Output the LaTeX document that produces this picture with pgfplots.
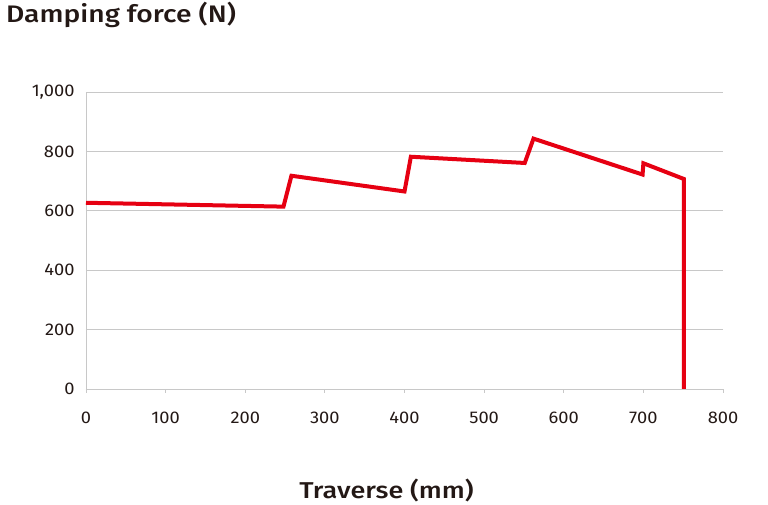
\documentclass[border=0pt]{standalone}
\usepackage{fontspec}
\setmainfont{Fira Sans}[FakeStretch=1.08]
\newfontfamily\titlefont{Fira Sans}[UprightFont={* Medium}, FakeStretch=1.18]
\usepackage{pgfplots}
\pgfplotsset{compat=1.18}
\definecolor{linered}{HTML}{E60012}
\definecolor{gridgray}{HTML}{C8C8C8}
\definecolor{txt}{HTML}{231815}
\begin{document}
\begin{tikzpicture}[x=1bp,y=1bp]
\path[use as bounding box] (-86,-116) rectangle (682,389);
\begin{axis}[
  at={(0,0)}, anchor=south west,
  scale only axis, width=637bp, height=297bp,
  xmin=0, xmax=800, ymin=0, ymax=1000,
  axis x line=bottom, axis y line=left,
  axis line style={-, draw=gridgray, line width=0.8bp},
  xtick={0,100,...,800}, ytick={0,200,...,1000},
  ymajorgrids, grid style={draw=gridgray, line width=0.8bp},
  xtick style={draw=gridgray, line width=0.8bp},
  tick align=outside, major tick length=4bp,
  ytick style={draw=none},
  /pgf/number format/assume math mode=true,
  /pgf/number format/1000 sep={,},
  tick label style={font=\fontsize{17}{20}\selectfont, text=txt},
  xticklabel style={yshift=-15bp},
  yticklabel style={xshift=-4bp},
  clip=false,
]
\addplot[linered, line width=4bp, line join=miter, miter limit=10] coordinates {
(0,627) (248,614) (258,718) (400,665) (408,782) (551,761) (562,843) (699,722) (700,760) (751,707) (751,0)
};
\end{axis}
\node[anchor=base west, inner sep=0pt, font=\titlefont\fontsize{24}{28}\selectfont, text=txt] at (-80,366) {Damping force (N)};
\node[anchor=base, inner sep=0pt, font=\titlefont\fontsize{23}{28}\selectfont, text=txt] at (300.5,-110) {Traverse (mm)};
\end{tikzpicture}
\end{document}
